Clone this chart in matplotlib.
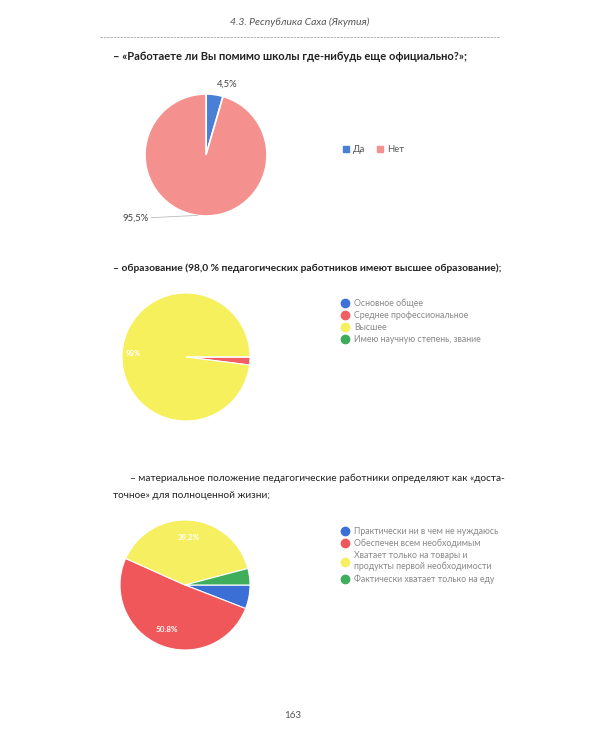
import numpy as np
import matplotlib
matplotlib.use("Agg")
import matplotlib.pyplot as plt
from matplotlib.lines import Line2D

plt.rcParams['font.family'] = ['Lato', 'DejaVu Sans']

# ---------------- data ----------------
header = "4.3. Республика Саха (Якутия)"
title1 = "– «Работаете ли Вы помимо школы где-нибудь еще официально?»;"
title2 = "– образование (98,0 % педагогических работников имеют высшее образование);"
title3 = ["– материальное положение педагогические работники определяют как «доста-",
          "точное» для полноценной жизни;"]
page_number = "163"

q1_labels = ["Да", "Нет"]
q1_values = [4.5, 95.5]
q1_text = ["4,5%", "95,5%"]
q1_colors = ["#4a7fd6", "#f4908e"]

q2_labels = ["Основное общее", "Среднее профессиональное", "Высшее",
             "Имею научную степень, звание"]
q2_values = [0.0, 2.0, 98.0, 0.0]
q2_text = ["", "", "98%", ""]
q2_colors = ["#3f72d8", "#ef5f63", "#f6f05c", "#3dab5b"]

q3_labels = ["Практически ни в чем не нуждаюсь", "Обеспечен всем необходимым",
             "Хватает только на товары и\nпродукты первой необходимости",
             "Фактически хватает только на еду"]
q3_values = [5.9, 50.8, 39.2, 4.1]
q3_text = ["", "50.8%", "39.2%", ""]
q3_colors = ["#3b6fd6", "#f0575a", "#f6ef62", "#3fae5c"]

W, H = 600, 750
fig = plt.figure(figsize=(6, 7.5), dpi=100)
fig.patch.set_facecolor("white")


def px(x, y):
    return x / W, 1 - y / H


def pie_axes(cx, cy, r):
    ax = fig.add_axes([(cx - r) / W, 1 - (cy + r) / H, 2 * r / W, 2 * r / H])
    return ax


def mid_angles(values, start, counterclock):
    vals = np.array(values, dtype=float)
    frac = vals / vals.sum() * 360.0
    sgn = 1 if counterclock else -1
    ends = start + sgn * np.cumsum(frac)
    begins = ends - sgn * frac
    return (begins + ends) / 2


# header
fig.text(*px(300, 22), header, ha="center", va="center", fontsize=7.5,
         style="italic", color="#555555")
fig.add_artist(Line2D([100 / W, 500 / W], [1 - 37 / H, 1 - 37 / H],
                      color="#aaaaaa", lw=0.6, linestyle=(0, (3, 1))))

# ---------- chart 1 ----------
fig.text(*px(113, 57), title1, ha="left", va="center", fontsize=8.0,
         weight="bold", color="#222222")
ax1 = pie_axes(206, 155, 61)
ax1.pie(q1_values, colors=q1_colors, startangle=90, counterclock=False,
        wedgeprops=dict(edgecolor="white", linewidth=1.2))
ax1.set_xlim(-1, 1); ax1.set_ylim(-1, 1); ax1.set_aspect("auto"); ax1.axis("off")
m1 = mid_angles(q1_values, 90, False)
a = np.deg2rad(m1[0])
ax1.text(np.cos(a) * 1.2 + 0.18, np.sin(a) * 1.18, q1_text[0], ha="center",
         va="center", fontsize=6.8, color="#444444", clip_on=False)
a = np.deg2rad(m1[1])
ex, ey = np.cos(a), np.sin(a)
ax1.annotate(q1_text[1], xy=(ex, ey), xytext=(ex - 0.8, ey - 0.05),
             ha="right", va="center", fontsize=6.8, color="#444444",
             arrowprops=dict(arrowstyle="-", color="#bbbbbb", lw=0.6,
                             shrinkA=0, shrinkB=0),
             annotation_clip=False)
h1 = [Line2D([], [], marker="s", linestyle="", markersize=4, color=c)
      for c in q1_colors]
fig.legend(h1, q1_labels, loc="center left", bbox_to_anchor=px(334, 150),
           ncol=2, frameon=False, fontsize=6.8, labelcolor="#555555",
           handletextpad=0.3, columnspacing=1.2, handlelength=0.8)

# ---------- chart 2 ----------
fig.text(*px(113, 268), title2, ha="left", va="center", fontsize=7.4,
         weight="bold", color="#222222")
ax2 = pie_axes(186, 357, 64)
ax2.pie(q2_values, colors=q2_colors, startangle=0, counterclock=False,
        wedgeprops=dict(edgecolor="white", linewidth=0.8))
ax2.set_xlim(-1, 1); ax2.set_ylim(-1, 1); ax2.set_aspect("auto"); ax2.axis("off")
m2 = mid_angles(q2_values, 0, False)
for ang, t in zip(m2, q2_text):
    if t:
        a = np.deg2rad(ang)
        ax2.text(np.cos(a) * 0.82, np.sin(a) * 0.82, t, ha="center", va="center",
                 fontsize=5.5, color="white", weight="bold")
h2 = [Line2D([], [], marker="o", linestyle="", markersize=6, color=c)
      for c in q2_colors]
fig.legend(h2, q2_labels, loc="upper left", bbox_to_anchor=px(333, 291),
           ncol=1, frameon=False, fontsize=6.3, labelcolor="#888888",
           handletextpad=0.5, labelspacing=0.35, handlelength=1.0)

# ---------- chart 3 ----------
fig.text(*px(130, 478), title3[0], ha="left", va="center", fontsize=7.2,
         color="#222222")
fig.text(*px(113, 495), title3[1], ha="left", va="center", fontsize=7.2,
         color="#222222")
ax3 = pie_axes(185, 585, 65)
ax3.pie(q3_values, colors=q3_colors, startangle=0, counterclock=False,
        wedgeprops=dict(edgecolor="white", linewidth=0.8))
ax3.set_xlim(-1, 1); ax3.set_ylim(-1, 1); ax3.set_aspect("auto"); ax3.axis("off")
m3 = mid_angles(q3_values, 0, False)
for ang, t in zip(m3, q3_text):
    if t:
        a = np.deg2rad(ang)
        ax3.text(np.cos(a) * 0.74, np.sin(a) * 0.74, t, ha="center", va="center",
                 fontsize=5.8, color="white", weight="bold")
h3 = [Line2D([], [], marker="o", linestyle="", markersize=6, color=c)
      for c in q3_colors]
fig.legend(h3, q3_labels, loc="upper left", bbox_to_anchor=px(333, 519),
           ncol=1, frameon=False, fontsize=6.3, labelcolor="#888888",
           handletextpad=0.5, labelspacing=0.35, handlelength=1.0)

# page number
fig.text(*px(293, 716), page_number, ha="center", va="center", fontsize=7,
         color="#555555")

fig.savefig("out.png", dpi=100, facecolor="white")
